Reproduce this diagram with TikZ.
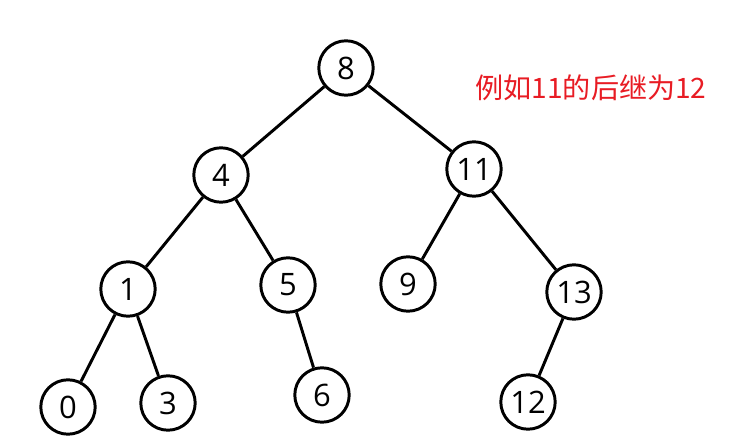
\documentclass[tikz,border=0pt]{standalone}
\usepackage{fontspec}
\setmainfont{Open Sans}
\newfontfamily\cjk{Noto Sans CJK SC}
\definecolor{notered}{RGB}{232,28,36}
\begin{document}
\begin{tikzpicture}[x=0.025cm,y=-0.025cm,
    vertex/.style={draw,circle,line width=2.1pt,minimum size=1.36cm,inner sep=0pt,font=\fontsize{22}{24}\selectfont},
    link/.style={line width=2.1pt}]
\useasboundingbox (0,0) rectangle (729,444);
\node[vertex] (n8) at (346,68) {8};
\node[vertex] (n4) at (221,175) {4};
\node[vertex] (n11) at (474,169) {11};
\node[vertex] (n1) at (128,289) {1};
\node[vertex] (n5) at (288,285) {5};
\node[vertex] (n9) at (408,284) {9};
\node[vertex] (n13) at (574,292) {13};
\node[vertex] (n0) at (68,407) {0};
\node[vertex] (n3) at (168,403) {3};
\node[vertex] (n6) at (322,395) {6};
\node[vertex] (n12) at (528,402) {12};
\draw[link] (n8)--(n4);
\draw[link] (n8)--(n11);
\draw[link] (n4)--(n1);
\draw[link] (n4)--(n5);
\draw[link] (n11)--(n9);
\draw[link] (n11)--(n13);
\draw[link] (n1)--(n0);
\draw[link] (n1)--(n3);
\draw[link] (n5)--(n6);
\draw[link] (n13)--(n12);
\node[text=notered,font=\cjk\fontsize{20}{24}\selectfont] (note) at (591,88) {例如11的后继为12};
\end{tikzpicture}
\end{document}
